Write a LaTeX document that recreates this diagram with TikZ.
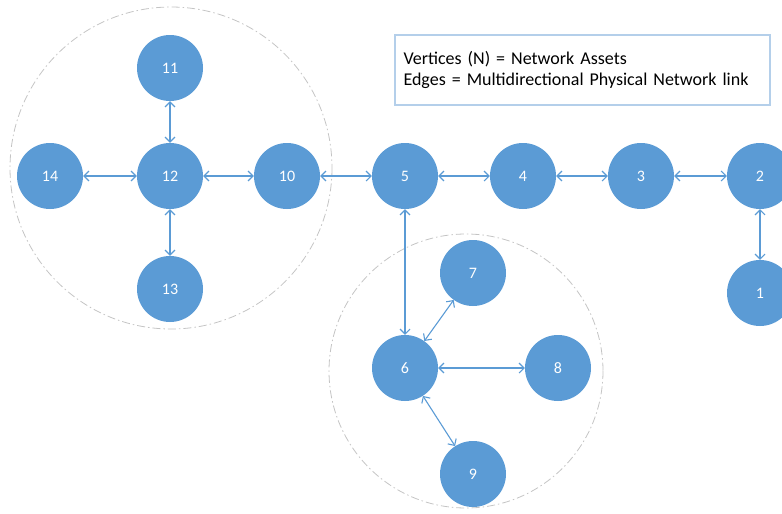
\documentclass[tikz,border=0pt]{standalone}
\usepackage{fontspec}
\setmainfont{Carlito}
\usetikzlibrary{arrows.meta}
\definecolor{nodeblue}{HTML}{5B9BD5}
\definecolor{edgeblue}{HTML}{5B9BD5}
\definecolor{boxblue}{HTML}{B4CFEA}
\definecolor{ringgrey}{HTML}{C4C4C4}
\tikzset{
  vertex/.style={circle, fill=nodeblue, draw=none, minimum size=66pt, inner sep=0pt,
    text=white, font=\fontsize{16}{18}\selectfont},
  link/.style={draw=edgeblue, line width=1.1pt,
    {Straight Barb[length=5pt,width=10pt]}-{Straight Barb[length=5pt,width=10pt]}},
  ring/.style={draw=ringgrey, line width=0.8pt, dash pattern=on 8pt off 3pt on 1.5pt off 3pt},
  legend/.style={draw=boxblue, line width=1.8pt, fill=white, minimum width=375pt, minimum height=70pt,
    align=left, text width=358pt, inner sep=0pt, font=\fontsize{18}{21}\selectfont}
}
\begin{document}
\begin{tikzpicture}[x=1pt,y=-1pt]
\useasboundingbox (0,0) rectangle (782,514);
% group rings
\draw[ring] (171,168) circle (161);
\draw[ring] (466,371) circle (137);
% legend
\node[legend] (leg) at (582.5,70) {\raisebox{-2pt}{}Vertices (N) = Network Assets\\Edges = Multidirectional Physical Network link};
% vertices
\node[vertex] (n11) at (170,68) {11};
\node[vertex] (n12) at (170,176) {12};
\node[vertex] (n13) at (170,289) {13};
\node[vertex] (n14) at (50,176) {14};
\node[vertex] (n10) at (287,176) {10};
\node[vertex] (n5) at (405,176) {5};
\node[vertex] (n4) at (523,176) {4};
\node[vertex] (n3) at (641,176) {3};
\node[vertex] (n2) at (760,176) {2};
\node[vertex] (n1) at (760,293) {1};
\node[vertex] (n7) at (473,273) {7};
\node[vertex] (n6) at (405,368) {6};
\node[vertex] (n8) at (558,368) {8};
\node[vertex] (n9) at (473,474) {9};
% links
\draw[link] (n12) -- (n11);
\draw[link] (n12) -- (n13);
\draw[link] (n14) -- (n12);
\draw[link] (n12) -- (n10);
\draw[link] (n10) -- (n5);
\draw[link] (n5) -- (n4);
\draw[link] (n4) -- (n3);
\draw[link] (n3) -- (n2);
\draw[link] (n2) -- (n1);
\draw[link] (n5) -- (n6);
\draw[link] (n6) -- (n7);
\draw[link] (n6) -- (n8);
\draw[link] (n6) -- (n9);
\end{tikzpicture}
\end{document}
